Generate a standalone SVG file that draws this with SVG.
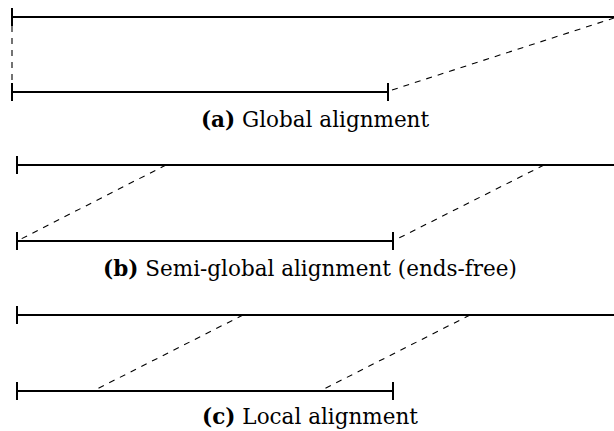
<svg xmlns="http://www.w3.org/2000/svg" width="614" height="431" viewBox="0 0 614 431">
<style>
.seq{stroke:#000;stroke-width:2;fill:none}
.tick{stroke:#000;stroke-width:2}
.match{stroke:#000;stroke-width:1.1;stroke-dasharray:6,6;fill:none}
.lbl{font-size:21.5px;fill:#000;text-anchor:middle}
.b{font-weight:bold}
</style>
<rect width="614" height="431" fill="#fff"/>
<g id="panel-a">
<g id="a-top"><line class="seq" x1="12" y1="17" x2="614" y2="17"/><line class="tick" x1="12" y1="8" x2="12" y2="26"/></g>
<g id="a-bottom"><line class="seq" x1="12" y1="92" x2="388" y2="92"/><line class="tick" x1="12" y1="83" x2="12" y2="101"/><line class="tick" x1="388" y1="83" x2="388" y2="101"/></g>
<g id="a-connectors"><line class="match" x1="12" y1="26" x2="12" y2="83"/><line class="match" x1="392" y1="90" x2="614" y2="18"/></g>
<text class="lbl" font-family="'DejaVu Serif', 'Liberation Serif', serif" x="315" y="127"><tspan class="b">(a)</tspan> Global alignment</text>
</g>
<g id="panel-b">
<g id="b-top"><line class="seq" x1="17" y1="165" x2="614" y2="165"/><line class="tick" x1="17" y1="156" x2="17" y2="174"/></g>
<g id="b-bottom"><line class="seq" x1="17" y1="241" x2="393" y2="241"/><line class="tick" x1="17" y1="232" x2="17" y2="250"/><line class="tick" x1="393" y1="232" x2="393" y2="250"/></g>
<g id="b-connectors"><line class="match" x1="166" y1="165" x2="19" y2="240"/><line class="match" x1="544" y1="165" x2="395" y2="240"/></g>
<text class="lbl" font-family="'DejaVu Serif', 'Liberation Serif', serif" x="310" y="276"><tspan class="b">(b)</tspan> Semi-global alignment (ends-free)</text>
</g>
<g id="panel-c">
<g id="c-top"><line class="seq" x1="17" y1="315" x2="614" y2="315"/><line class="tick" x1="17" y1="306" x2="17" y2="324"/></g>
<g id="c-bottom"><line class="seq" x1="17" y1="391" x2="393" y2="391"/><line class="tick" x1="17" y1="382" x2="17" y2="400"/><line class="tick" x1="393" y1="382" x2="393" y2="400"/></g>
<g id="c-connectors"><line class="match" x1="243" y1="315" x2="93" y2="391"/><line class="match" x1="470" y1="315" x2="320" y2="391"/></g>
<text class="lbl" font-family="'DejaVu Serif', 'Liberation Serif', serif" x="310" y="424"><tspan class="b">(c)</tspan> Local alignment</text>
</g>
</svg>
